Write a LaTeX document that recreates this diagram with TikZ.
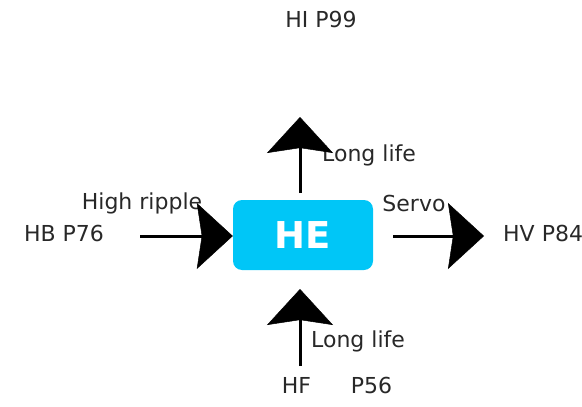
\documentclass[tikz,border=0pt]{standalone}
\usepackage{fontspec}
\setmainfont{DejaVu Sans}
\usetikzlibrary{arrows.meta}
\definecolor{boxcyan}{RGB}{0,198,247}
\definecolor{txt}{RGB}{40,40,40}
\begin{document}
\begin{tikzpicture}[x=1pt,y=-1pt,
  lbl/.style={font=\fontsize{22}{25}\selectfont, text=txt, inner sep=0pt},
  arr/.style={line width=3pt, -{Stealth[length=36pt,width=66pt,inset=5pt,line width=0.5pt]}}]
\useasboundingbox (0,0) rectangle (582,407);
\node[fill=boxcyan, rounded corners=9pt, minimum width=140pt, minimum height=70pt, inner sep=0pt,
  text=white, font=\bfseries\fontsize{37}{40}\selectfont] (he) at (303,235) {HE};
\node[lbl] (hi) at (321,19) {HI P99};
\node[lbl] (hb) at (64,233) {HB P76};
\node[lbl, anchor=west] (hv) at (503,233) {HV P84};
\node[lbl] (hf) at (337,385) {HF\hspace{40pt}P56};
\node[lbl] (hr) at (142,203) {High ripple};
\node[lbl] (sv) at (414,203) {Servo};
\node[lbl, anchor=west] (ll1) at (322,155) {Long life};
\node[lbl, anchor=west] (ll2) at (311,341) {Long life};
\coordinate (l0) at (140,236);
\coordinate (r0) at (393,236);
\coordinate (r1) at (484,236);
\coordinate (t0) at (300,193);
\coordinate (t1) at (300,117);
\coordinate (b0) at (300,366);
\coordinate (b1) at (300,289);
\draw[arr] (l0) -- (he.west |- l0);
\draw[arr] (r0) -- (r1);
\draw[arr] (t0) -- (t1);
\draw[arr] (b0) -- (b1);
\end{tikzpicture}
\end{document}
